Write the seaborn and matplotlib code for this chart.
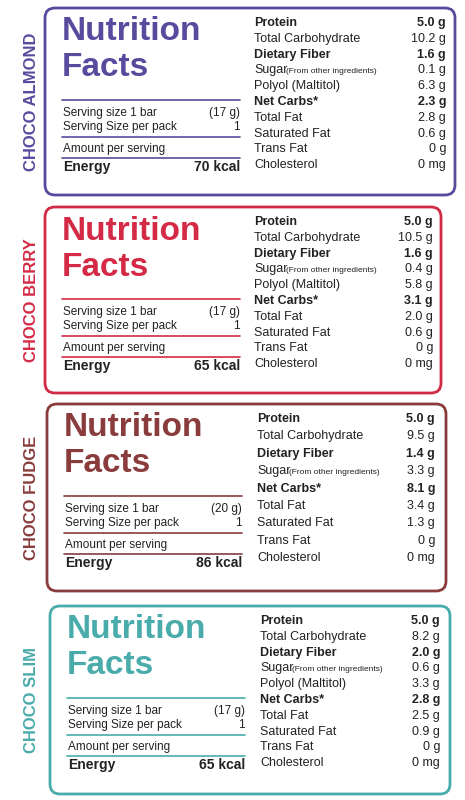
import matplotlib
matplotlib.use("Agg")
import matplotlib.pyplot as plt
import seaborn as sns
from matplotlib.patches import FancyBboxPatch

sns.set_theme(style="white")
plt.rcParams['font.family'] = ['Liberation Sans', 'DejaVu Sans']

products = ["CHOCO ALMOND", "CHOCO BERRY", "CHOCO FUDGE", "CHOCO SLIM"]
colors = ["#5a4a9e", "#d42a45", "#8a3c3c", "#4aabab"]
serving_g = ["(17 g)", "(17 g)", "(20 g)", "(17 g)"]
energy = ["70 kcal", "65 kcal", "86 kcal", "65 kcal"]
nutrients = [
    ["Protein", "Total Carbohydrate", "Dietary Fiber", "Sugar", "Polyol (Maltitol)", "Net Carbs*",
     "Total Fat", "Saturated Fat", "Trans Fat", "Cholesterol"],
    ["Protein", "Total Carbohydrate", "Dietary Fiber", "Sugar", "Polyol (Maltitol)", "Net Carbs*",
     "Total Fat", "Saturated Fat", "Trans Fat", "Cholesterol"],
    ["Protein", "Total Carbohydrate", "Dietary Fiber", "Sugar", "Net Carbs*",
     "Total Fat", "Saturated Fat", "Trans Fat", "Cholesterol"],
    ["Protein", "Total Carbohydrate", "Dietary Fiber", "Sugar", "Polyol (Maltitol)", "Net Carbs*",
     "Total Fat", "Saturated Fat", "Trans Fat", "Cholesterol"],
]
values = [
    ["5.0 g", "10.2 g", "1.6 g", "0.1 g", "6.3 g", "2.3 g", "2.8 g", "0.6 g", "0 g", "0 mg"],
    ["5.0 g", "10.5 g", "1.6 g", "0.4 g", "5.8 g", "3.1 g", "2.0 g", "0.6 g", "0 g", "0 mg"],
    ["5.0 g", "9.5 g", "1.4 g", "3.3 g", "8.1 g", "3.4 g", "1.3 g", "0 g", "0 mg"],
    ["5.0 g", "8.2 g", "2.0 g", "0.6 g", "3.3 g", "2.8 g", "2.5 g", "0.9 g", "0 g", "0 mg"],
]
bold_rows = {"Protein", "Dietary Fiber", "Net Carbs*"}

boxes = [(8, 195, 254, 446), (207, 393, 254, 433), (404, 591, 257, 435), (606, 794, 260, 440)]
lefts = [45, 45, 47, 50]
rights = [455, 441, 446, 450]

fig = plt.figure(figsize=(4.65, 8), dpi=100)
ax = fig.add_axes([0, 0, 1, 1])
ax.set_xlim(0, 465)
ax.set_ylim(800, 0)
ax.axis("off")

for i in range(4):
    top, bot, lx, vx = boxes[i]
    c = colors[i]
    L, R = lefts[i], rights[i]
    ax.add_patch(FancyBboxPatch((L, top), R - L, bot - top,
                                boxstyle="round,pad=0,rounding_size=10",
                                fill=False, ec=c, lw=2))
    ax.text(31, (top + bot) / 2, products[i], rotation=90, color=c, fontsize=12,
            fontweight="bold", ha="center", va="center")
    tx = L + 17
    ax.text(tx, top + 24, "Nutrition", color=c, fontsize=24, fontweight="bold", va="center")
    ax.text(tx, top + 60, "Facts", color=c, fontsize=24, fontweight="bold", va="center")
    lx2 = tx + 178
    fs = 8.5
    ax.plot([tx, lx2], [top + 92, top + 92], color=c, lw=1.2)
    ax.text(tx + 1, top + 105, "Serving size 1 bar", fontsize=fs, va="center", color="#222")
    ax.text(lx2, top + 105, serving_g[i], fontsize=fs, va="center", ha="right", color="#222")
    ax.text(tx + 1, top + 119, "Serving Size per pack", fontsize=fs, va="center", color="#222")
    ax.text(lx2, top + 119, "1", fontsize=fs, va="center", ha="right", color="#222")
    ax.plot([tx, lx2], [top + 129, top + 129], color=c, lw=1.2)
    ax.text(tx + 1, top + 141, "Amount per serving", fontsize=fs, va="center", color="#222")
    ax.plot([tx, lx2], [top + 150, top + 150], color=c, lw=1.2)
    ax.text(tx + 1, top + 159, "Energy", fontsize=10, fontweight="bold", va="center", color="#222")
    ax.text(lx2, top + 159, energy[i], fontsize=10, fontweight="bold", va="center", ha="right", color="#222")

    n = len(nutrients[i])
    step = 15.8 if n == 10 else 17.4
    for j, (name, val) in enumerate(zip(nutrients[i], values[i])):
        y = top + 15 + j * step
        w = "bold" if name in bold_rows else "normal"
        ax.text(lx, y, name, fontsize=9, fontweight=w, va="center", color="#222")
        if name == "Sugar":
            ax.text(lx + 32, y + 1, "(From other ingredients)", fontsize=6, va="center", color="#222")
        ax.text(vx, y, val, fontsize=9, fontweight=w, va="center", ha="right", color="#222")

fig.savefig("out.png", dpi=100)
